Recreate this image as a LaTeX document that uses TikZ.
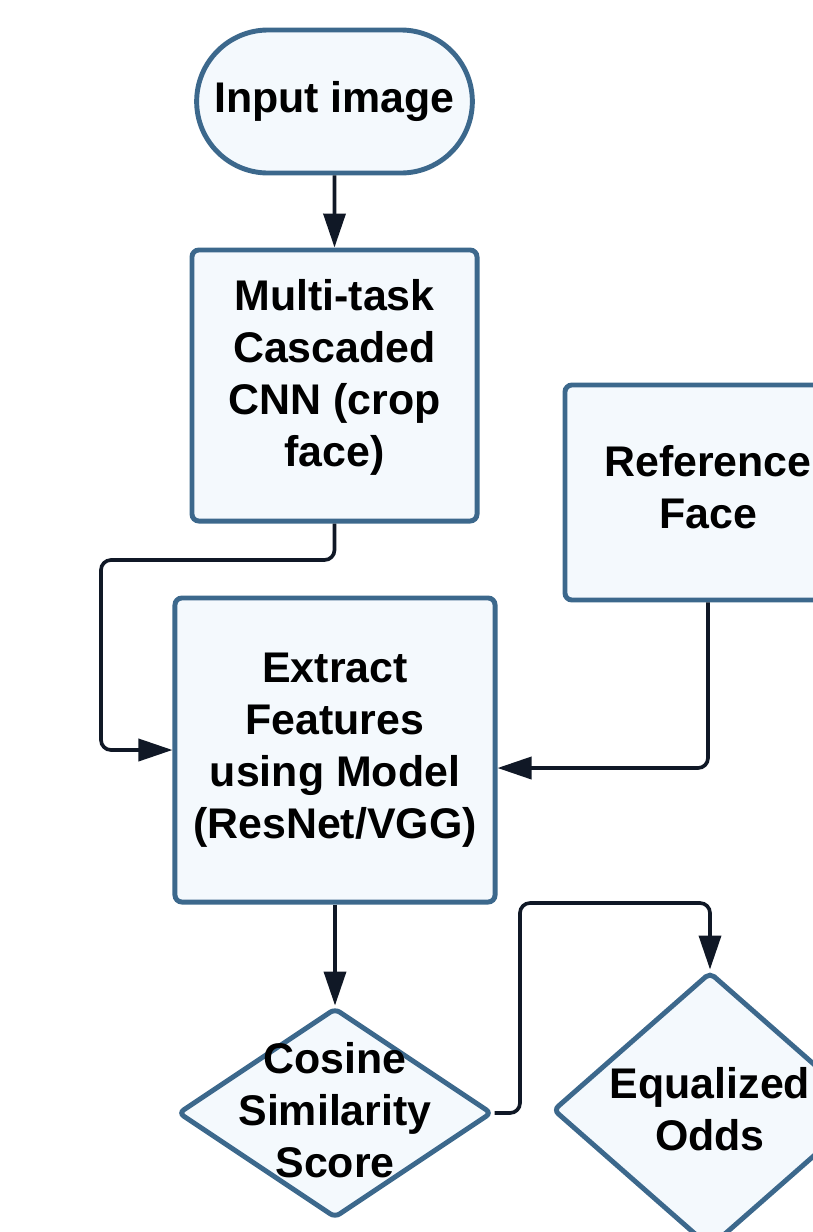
\documentclass[tikz,border=0pt]{standalone}
\usepackage{fontspec}
\setmainfont{Liberation Sans}
\definecolor{boxblue}{RGB}{60, 104, 140}
\definecolor{boxfill}{RGB}{244, 249, 253}
\definecolor{linenavy}{RGB}{16, 24, 38}
\usepackage{tikz}
\usetikzlibrary{shapes.geometric, shapes.misc, arrows.meta, positioning, calc}
\tikzset{
    flowtext/.style={font=\fontsize{30.5}{37}\selectfont\bfseries, align=center, text=black},
    basebox/.style={draw=boxblue, fill=boxfill, line width=3.5pt, flowtext},
    terminal/.style={basebox, rounded rectangle, minimum width=7.125cm, minimum height=3.575cm},
    process/.style={basebox, rectangle, rounded corners=5pt},
    decision/.style={draw=boxblue, fill=boxfill, line width=3.5pt, diamond, inner sep=0pt, rounded corners=4pt},
    flowarrow/.style={-{Triangle[length=0.85cm, width=0.55cm]}, line width=2.6pt, draw=linenavy, rounded corners=0.25cm},
}

\begin{document}
\begin{tikzpicture}[x=0.025cm, y=-0.025cm]
                    \useasboundingbox (0,0) rectangle (813,1232);
                    \clip (0,0) rectangle (813,1232);

                    % Start
                    \node[terminal] (input) at (334.5, 101.5) {Input image};

                    % Face detection
                    \node[process, minimum width=7.125cm, minimum height=6.775cm] (mtcnn) at (334.5, 385.5) {};
                    \node[flowtext] (mtcnntext) at (334.5, 377) {Multi-task\\Cascaded\\CNN (crop\\face)};

                    % Reference image
                    \node[process, minimum width=7.15cm, minimum height=5.375cm] (refface) at (708, 492.5) {};
                    \node[flowtext] (reftext) at (708, 487) {Reference\\Face};

                    % Feature extractor
                    \node[process, minimum width=8cm, minimum height=7.6cm] (extract) at (335, 750) {Extract\\Features\\using Model\\(ResNet/VGG)};

                    % Score
                    \node[decision, minimum width=7.85cm, minimum height=5.25cm] (cosine) at (335, 1113) {};
                    \node[flowtext] (cosinetext) at (335, 1110) {Cosine\\Similarity\\Score};

                    % Fairness metric
                    \node[decision, minimum width=7.85cm, minimum height=6.9cm] (equalized) at (710, 1110) {};
                    \node[flowtext] (equalizedtext) at (710, 1109) {Equalized\\Odds};

                    % Bend points
                    \coordinate (leftbend) at (101, 560);
                    \coordinate (upbend) at (520, 903);

                    % Arrows
                    \draw[flowarrow] (input) -- (mtcnn);
                    \draw[flowarrow] (mtcnn.south) |- (leftbend) |- (extract.west);
                    \draw[flowarrow] (refface.south) |- ([yshift=-0.45cm]extract.east);
                    \draw[flowarrow] (extract) -- (cosine);
                    \draw[flowarrow] (cosine.east) -| (upbend) -| (equalized.north);
                \end{tikzpicture}
\end{document}
